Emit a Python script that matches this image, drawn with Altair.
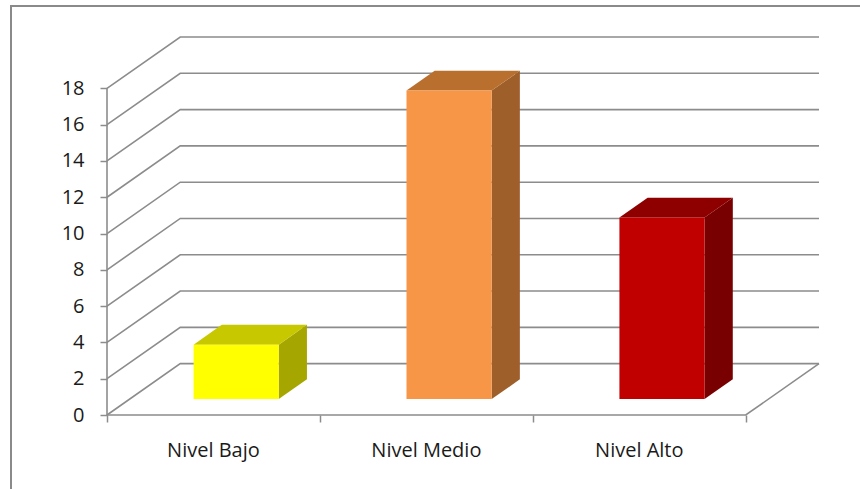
import altair as alt
import pandas as pd

# ---- data ----
categories = ["Nivel Bajo", "Nivel Medio", "Nivel Alto"]
values = [3, 17, 10]
y_ticks = [0, 2, 4, 6, 8, 10, 12, 14, 16, 18]

# ---- styles ----
front_colors = ["#FFFF00", "#F79646", "#C00000"]
top_colors = ["#C8C800", "#B9702F", "#8E0000"]
side_colors = ["#A6A600", "#9E5F2B", "#780000"]
GRID = "#8c8c8c"
FONT = "Open Sans"
FS = 20

# ---- 3-D projection parameters (in data units) ----
Y_MAX = 18
DX = 0.344   # depth shift in category units
DY = 2.83    # depth shift in value units
F0, F1 = 0.31, 0.695   # bar front / back depth fraction
BAR_W = 0.4
N = len(categories)
W, H = 712, 378

xs = alt.Scale(domain=[0, N + DX], nice=False, zero=False)
ys = alt.Scale(domain=[0, Y_MAX + DY], nice=False, zero=False)

x_axis = alt.Axis(values=list(range(N + 1)), labels=False, domain=False, grid=False,
                  ticks=True, tickSize=7, tickColor=GRID, tickWidth=1.5, title=None)
y_axis = alt.Axis(values=y_ticks, domain=False, grid=False, ticks=True, tickSize=7,
                  tickColor=GRID, tickWidth=1.5, labelPadding=16, title=None,
                  labelFont=FONT, labelFontSize=FS, labelColor="#1a1a1a")

# ---- grid / wall lines ----
rows = []
for v in y_ticks:
    rows += [dict(line=f"g{v}", o=0, x=0, y=v),
             dict(line=f"g{v}", o=1, x=DX, y=v + DY),
             dict(line=f"g{v}", o=2, x=N + DX, y=v + DY)]
rows += [dict(line="floor", o=0, x=0, y=0),
         dict(line="floor", o=1, x=N, y=0),
         dict(line="floor", o=2, x=N + DX, y=DY)]
rows += [dict(line="axis", o=0, x=0, y=0),
         dict(line="axis", o=1, x=0, y=Y_MAX)]
grid_df = pd.DataFrame(rows)

grid = alt.Chart(grid_df).mark_line(color=GRID, strokeWidth=1.6).encode(
    x=alt.X("x:Q", scale=xs, axis=x_axis),
    y=alt.Y("y:Q", scale=ys, axis=y_axis),
    detail="line:N",
    order="o:Q",
)

# ---- bars ----
front_rows, top_rows, side_rows = [], [], []
for i, (c, v) in enumerate(zip(categories, values)):
    left = i + 0.5 - BAR_W / 2
    right = i + 0.5 + BAR_W / 2
    front_rows.append(dict(cat=c, x=left + F0 * DX, x2=right + F0 * DX,
                           y=F0 * DY, y2=v + F0 * DY, col=front_colors[i]))
    for f in (F0, F1):
        top_rows.append(dict(cat=c, x=left + f * DX, x2=right + f * DX,
                             y=v + f * DY, col=top_colors[i]))
        side_rows.append(dict(cat=c, x=right + f * DX, y=f * DY,
                              y2=v + f * DY, col=side_colors[i]))

front_df = pd.DataFrame(front_rows)
top_df = pd.DataFrame(top_rows)
side_df = pd.DataFrame(side_rows)

side = alt.Chart(side_df).mark_area(orient="vertical").encode(
    x=alt.X("x:Q", scale=xs, axis=x_axis),
    y=alt.Y("y:Q", scale=ys, axis=y_axis),
    y2="y2:Q",
    detail="cat:N",
    color=alt.Color("col:N", scale=None),
)

top = alt.Chart(top_df).mark_area(orient="horizontal").encode(
    y=alt.Y("y:Q", scale=ys, axis=y_axis),
    x=alt.X("x:Q", scale=xs, axis=x_axis),
    x2="x2:Q",
    detail="cat:N",
    color=alt.Color("col:N", scale=None),
)

front = alt.Chart(front_df).mark_rect().encode(
    x=alt.X("x:Q", scale=xs, axis=x_axis),
    x2="x2:Q",
    y=alt.Y("y:Q", scale=ys, axis=y_axis),
    y2="y2:Q",
    color=alt.Color("col:N", scale=None),
)

# ---- category labels ----
label_df = pd.DataFrame(dict(cat=categories, x=[i + 0.5 for i in range(N)]))
labels = alt.Chart(label_df).mark_text(
    font=FONT, fontSize=FS, color="#1a1a1a", baseline="alphabetic", align="center"
).encode(
    x=alt.X("x:Q", scale=xs, axis=x_axis),
    y=alt.datum(-2.31, scale=ys),
    text="cat:N",
)

# ---- outer frame ----
frame = alt.Chart(label_df).mark_rect(filled=False, stroke="#8a8a8a", strokeWidth=2).encode(
    x=alt.value(-96), x2=alt.value(W + 80),
    y=alt.value(-31), y2=alt.value(H + 100),
)

chart = alt.layer(frame, grid, side, top, front, labels).properties(
    width=W, height=H,
    autosize=alt.AutoSizeParams(type="none"),
    padding={"left": 107, "top": 37, "right": 860 - 107 - W, "bottom": 489 - 37 - H},
    background="white",
).configure_view(strokeWidth=0)

chart.save("out.html", embed_options={"renderer": "svg", "actions": False})
